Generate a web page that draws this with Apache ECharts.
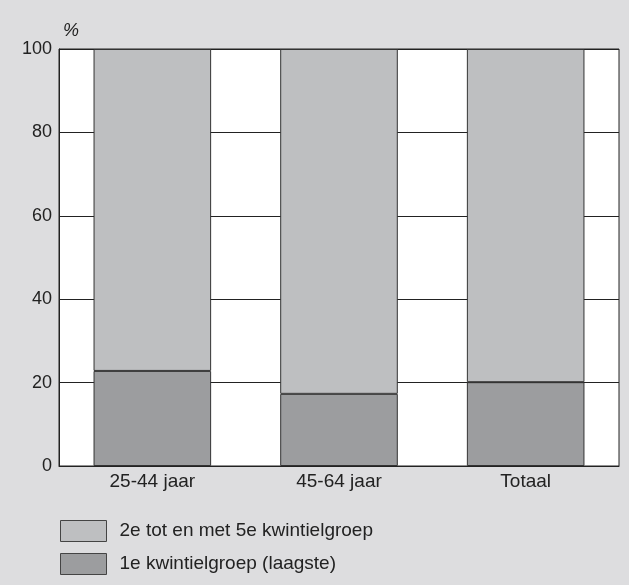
<!DOCTYPE html>
<html><head><meta charset="utf-8">
<script src="https://cdn.jsdelivr.net/npm/echarts@6/dist/echarts.min.js"></script>
<style>html,body{margin:0;padding:0;background:#dddddf}#c{width:629px;height:585px}</style>
</head><body><div id="c"></div>
<script>
const categories = ['25-44 jaar', '45-64 jaar', 'Totaal'];
const lowest = [22.8, 17.3, 20.1];
const rest = [77.2, 82.7, 79.9];
const seriesNames = ['1e kwintielgroep (laagste)', '2e tot en met 5e kwintielgroep'];
const yTicks = [0, 20, 40, 60, 80, 100];

const chart = echarts.init(document.getElementById('c'));
const font = 'Liberation Sans, Arial, Helvetica, sans-serif';
chart.setOption({
  backgroundColor: '#dddddf',
  animation: false,
  grid: { left: 59, right: 10, top: 49, bottom: 119, show: true, backgroundColor: '#ffffff', borderColor: '#222', borderWidth: 1 },
  legend: {
    orient: 'vertical', left: 60, top: 520, padding: 0, itemWidth: 46, itemHeight: 21, itemGap: 11,
    data: [seriesNames[1], seriesNames[0]],
    textStyle: { fontFamily: font, fontSize: 19, color: '#222', padding: [0, 0, 0, 8] },
    icon: 'rect',
    itemStyle: { borderColor: '#444', borderWidth: 1 }
  },
  xAxis: {
    type: 'category', data: categories,
    axisLine: { lineStyle: { color: '#222', width: 1 } },
    axisTick: { show: false },
    axisLabel: { fontFamily: font, fontSize: 19, color: '#222', margin: 6 }
  },
  yAxis: {
    type: 'value', min: 0, max: 100, interval: 20,
    name: '%', nameLocation: 'end', nameGap: 9,
    nameTextStyle: { fontFamily: font, fontSize: 18, fontStyle: 'italic', color: '#222', align: 'left', padding: [0, 0, 0, 4] },
    axisLine: { show: true, lineStyle: { color: '#222' } },
    axisTick: { show: false },
    splitLine: { lineStyle: { color: '#222', width: 1 } },
    axisLabel: { fontFamily: font, fontSize: 18, color: '#222', margin: 7,
      formatter: v => yTicks.includes(v) ? String(v) : '' }
  },
  series: [
    { name: seriesNames[0], type: 'bar', stack: 'a', data: lowest, barCategoryGap: '37%',
      itemStyle: { color: '#9c9d9f', borderColor: '#333', borderWidth: 1 } },
    { name: seriesNames[1], type: 'bar', stack: 'a', data: rest,
      itemStyle: { color: '#bebfc1', borderColor: '#333', borderWidth: 1 } }
  ]
});
</script></body></html>
